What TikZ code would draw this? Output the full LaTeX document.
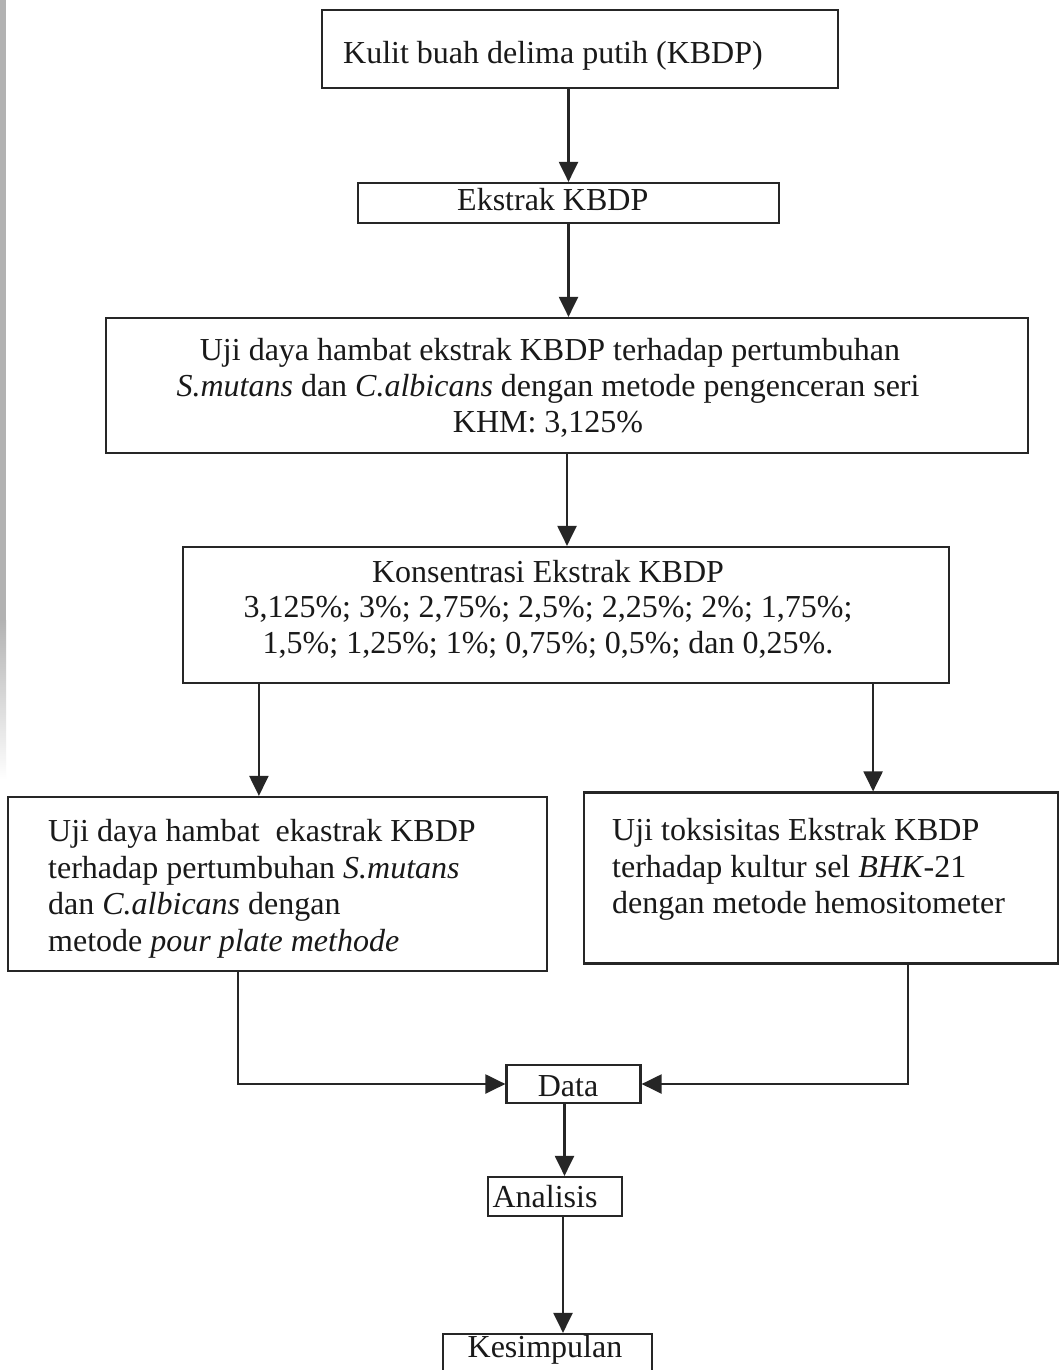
\documentclass[tikz,border=0pt]{standalone}
\usepackage{fontspec}
\setmainfont{Liberation Serif}
\usetikzlibrary{arrows.meta}
\begin{document}
\begin{tikzpicture}[x=1pt,y=-1pt,
  box/.style={draw=black!85, line width=2.2pt, inner sep=0pt},
  txt/.style={inner sep=0pt, anchor=base, text=black!90, font=\fontsize{32}{36.5}\selectfont},
  txtl/.style={txt, anchor=base west},
  conn/.style={draw=black!85, line width=2.2pt},
  arr/.style={conn, -{Triangle[length=20pt,width=19pt]}}]
\useasboundingbox (0,0) rectangle (1059,1370);
\fill[white] (0,0) rectangle (1059,1370);
% scan edge
\fill[gray!60] (0,0) rectangle (6,620);
\shade[top color=gray!60, bottom color=white] (0,620) rectangle (6,780);

% boxes
\node[box, minimum width=516pt, minimum height=78pt] (b1) at (580,49) {};
\node[box, minimum width=421pt, minimum height=40pt] (b2) at (568.5,203) {};
\node[box, minimum width=922pt, minimum height=135pt] (b3) at (567,385.5) {};
\node[box, minimum width=766pt, minimum height=136pt] (b4) at (566,615) {};
\node[box, minimum width=539pt, minimum height=174pt] (b5) at (277.5,884) {};
\node[box, minimum width=474pt, minimum height=171pt] (b6) at (821,878) {};
\node[box, minimum width=134pt, minimum height=38pt] (data) at (573.5,1084) {};
\node[box, minimum width=134pt, minimum height=39pt] (an) at (555,1196.5) {};
\node[box, minimum width=209pt, minimum height=46pt] (kes) at (547.5,1357) {};

% texts
\node[txtl] (t1) at (343,64) {Kulit buah delima putih (KBDP)};
\node[txtl] (t2) at (457,210) {Ekstrak KBDP};
\node[txt] (t3a) at (550,360) {Uji daya hambat ekstrak KBDP terhadap pertumbuhan};
\node[txt] (t3b) at (548,396) {\textit{S.mutans} dan \textit{C.albicans} dengan metode pengenceran seri};
\node[txt] (t3c) at (548,432) {KHM: 3,125\%};
\node[txt] (t4a) at (548,582) {Konsentrasi Ekstrak KBDP};
\node[txt] (t4b) at (548,617) {3,125\%; 3\%; 2,75\%; 2,5\%; 2,25\%; 2\%; 1,75\%;};
\node[txt] (t4c) at (548,653) {1,5\%; 1,25\%; 1\%; 0,75\%; 0,5\%; dan 0,25\%.};
\node[txtl] (t5a) at (48,841) {Uji daya hambat~ ekastrak KBDP};
\node[txtl] (t5b) at (48,878) {terhadap pertumbuhan \textit{S.mutans}};
\node[txtl] (t5c) at (48,914) {dan \textit{C.albicans} dengan};
\node[txtl] (t5d) at (48,951) {metode \textit{pour plate methode}};
\node[txtl] (t6a) at (612,840) {Uji toksisitas Ekstrak KBDP};
\node[txtl] (t6b) at (612,877) {terhadap kultur sel \textit{BHK}-21};
\node[txtl] (t6c) at (612,913) {dengan metode hemositometer};
\node[txt] (td) at (568,1096) {Data};
\node[txt] (ta) at (545,1207) {Analisis};
\node[txt] (tk) at (545,1357) {Kesimpulan};

% connectors
\draw[arr] (b2.north |- b1.south) -- (b2.north);
\draw[arr] (b2.south) -- (b2.south |- b3.north);
\draw[arr] (b3.south) -- (b3.south |- b4.north);
\draw[arr] ([xshift=77pt]b4.south west) -- ([xshift=77pt]b4.south west |- b5.north);
\draw[arr] ([xshift=-77pt]b4.south east) -- ([xshift=-77pt]b4.south east |- b6.north);
\draw[arr] ([xshift=231pt]b5.south west) -- ([xshift=231pt]b5.south west |- data.west) -- (data.west);
\draw[arr] ([xshift=325pt]b6.south west) -- ([xshift=325pt]b6.south west |- data.east) -- (data.east);
\draw[arr] ([xshift=-9pt]data.south) -- ([xshift=-9pt]data.south |- an.north);
\draw[arr] ([xshift=8pt]an.south) -- ([xshift=8pt]an.south |- kes.north);
\end{tikzpicture}
\end{document}
